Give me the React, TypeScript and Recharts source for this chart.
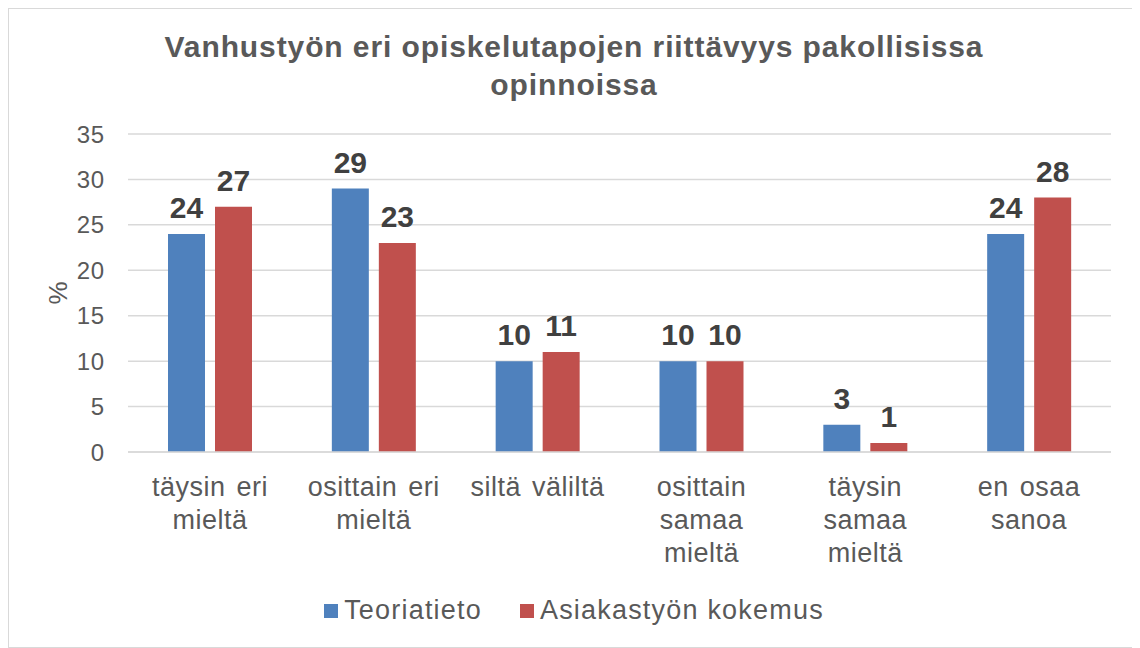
import React from "react";
import { BarChart, Bar, XAxis, YAxis, CartesianGrid, LabelList } from "recharts";

const categories = [
  "täysin eri\nmieltä",
  "osittain eri\nmieltä",
  "siltä väliltä",
  "osittain\nsamaa\nmieltä",
  "täysin\nsamaa\nmieltä",
  "en osaa\nsanoa",
];
const teoriatieto = [24, 29, 10, 10, 3, 24];
const asiakastyo = [27, 23, 11, 10, 1, 28];
const seriesNames = ["Teoriatieto", "Asiakastyön kokemus"];
const yTicks = [0, 5, 10, 15, 20, 25, 30, 35];
const titleLines = ["Vanhustyön eri opiskelutapojen riittävyys pakollisissa", "opinnoissa"];

const BLUE = "#4f81bd";
const RED = "#c0504d";
const TEXT = "#595959";
const FONT = "'Liberation Sans', Arial, sans-serif";

const data = categories.map((c, i) => ({ name: c, a: teoriatieto[i], b: asiakastyo[i] }));

const XTick = (props: any) => {
  const { x, y, payload } = props;
  const lines = String(payload.value).split("\n");
  return (
    <text x={x} y={y} textAnchor="middle" fill={TEXT} fontSize={27} fontFamily={FONT} style={{ letterSpacing: "0.5px", wordSpacing: "3px" }}>
      {lines.map((l, i) => (
        <tspan key={i} x={x} dy={i === 0 ? 44 : 33}>
          {l}
        </tspan>
      ))}
    </text>
  );
};

const YLabel = (props: any) => {
  const vb = props.viewBox;
  const cx = vb.x + 49;
  const cy = vb.y + vb.height / 2;
  return (
    <text x={cx} y={cy} transform={`rotate(-90 ${cx} ${cy})`} textAnchor="middle" dominantBaseline="central" fill={TEXT} fontSize={26} fontFamily={FONT}>
      %
    </text>
  );
};

export default function App() {
  return (
    <div style={{ position: "relative", width: 1130, height: 638, border: "1px solid #d9d9d9", background: "#fff", fontFamily: FONT }}>
      <div style={{ position: "absolute", top: 19, left: 0, width: 1130, textAlign: "center", fontWeight: "bold", fontSize: 30, lineHeight: "38px", color: TEXT, letterSpacing: 0.9 }}>
        {titleLines.map((t, i) => (
          <div key={i}>{t}</div>
        ))}
      </div>
      <BarChart
        width={1130}
        height={638}
        data={data}
        margin={{ top: 125, right: 28, left: 0, bottom: 55 }}
        barSize={37}
        barGap={10}
      >
        <CartesianGrid vertical={false} stroke="#d9d9d9" strokeWidth={1.5} />
        <XAxis dataKey="name" axisLine={{ stroke: "#d9d9d9", strokeWidth: 1.5 }} tickLine={false} tickSize={0} tickMargin={0} tick={<XTick />} interval={0} height={140} />
        <YAxis
          width={119}
          domain={[0, 35]}
          ticks={yTicks}
          axisLine={false}
          tickLine={false}
          tickSize={0}
          tickMargin={23}
          tick={{ fill: TEXT, fontSize: 24, fontFamily: FONT, style: { letterSpacing: "0.8px" } }}
          label={<YLabel />}
        />
        <Bar dataKey="a" name={seriesNames[0]} fill={BLUE} isAnimationActive={false}>
          <LabelList dataKey="a" position="top" offset={16} fill="#404040" fontSize={30} fontWeight="bold" fontFamily={FONT} />
        </Bar>
        <Bar dataKey="b" name={seriesNames[1]} fill={RED} isAnimationActive={false}>
          <LabelList dataKey="b" position="top" offset={16} fill="#404040" fontSize={30} fontWeight="bold" fontFamily={FONT} />
        </Bar>
      </BarChart>
      <div style={{ position: "absolute", top: 586, left: 0, width: 1130, display: "flex", justifyContent: "center", alignItems: "center", fontSize: 27, color: TEXT, letterSpacing: 1.2 }}>
        {seriesNames.map((n, i) => (
          <div key={n} style={{ display: "flex", alignItems: "center", marginLeft: i === 0 ? 0 : 38 }}>
            <span style={{ width: 14, height: 14, background: i === 0 ? BLUE : RED, display: "inline-block", marginRight: 6 }} />
            <span>{n}</span>
          </div>
        ))}
      </div>
    </div>
  );
}
